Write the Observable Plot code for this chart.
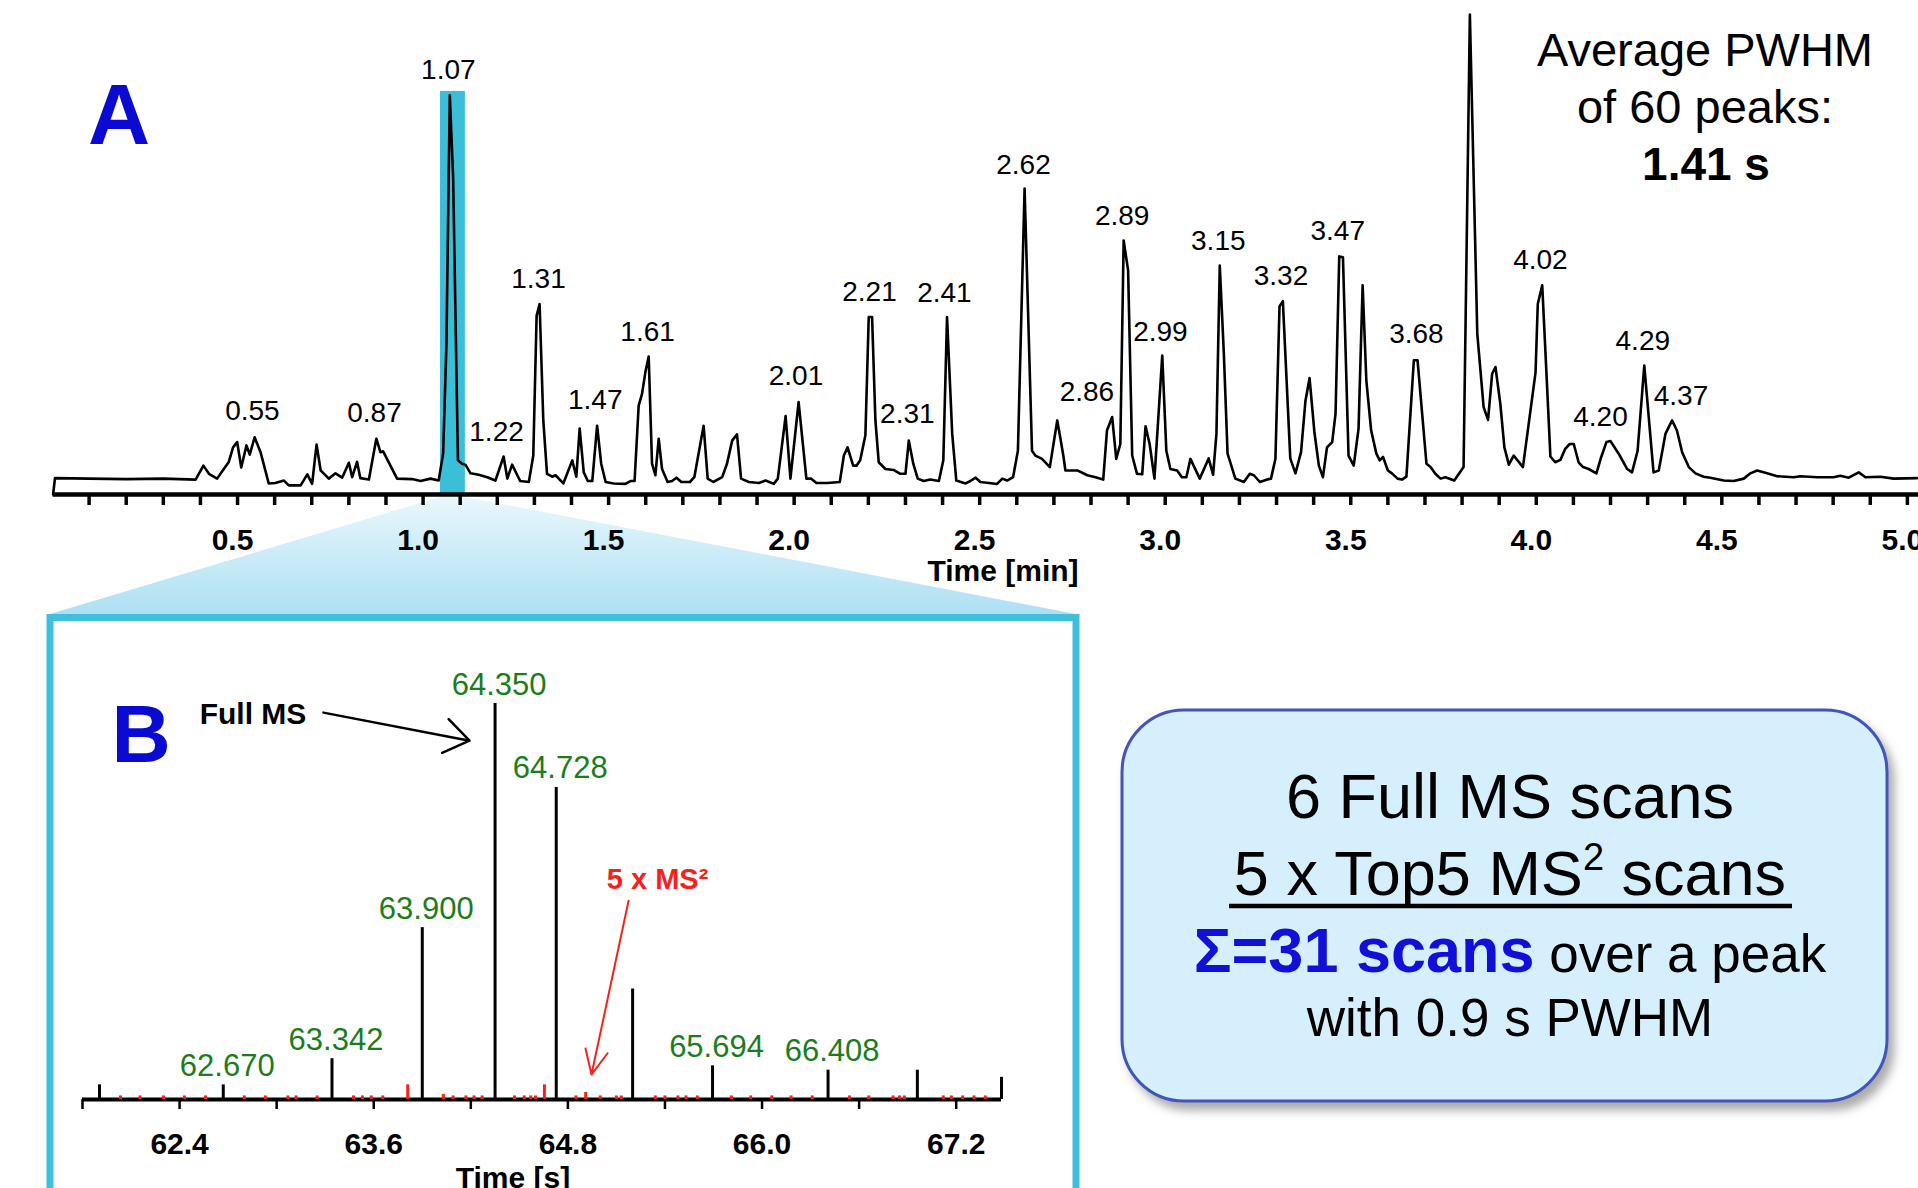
<!DOCTYPE html>
<html><head><meta charset="utf-8">
<script src="https://cdn.jsdelivr.net/npm/d3@7"></script>
<script src="https://cdn.jsdelivr.net/npm/@observablehq/plot@0.6"></script>
<style>
html,body{margin:0;padding:0;background:#fff;}
#root{position:relative;width:1918px;height:1188px;overflow:hidden;background:#fff;font-family:"Liberation Sans",Arial,sans-serif;}
#root > svg{position:absolute;left:0;top:0;}
</style></head><body><div id="root"></div>
<script>
// ---------- Panel A data (chromatogram, time in min, relative intensity) ----------
const traceTime = [0.003,0.008,0.10,0.20,0.30,0.387,0.408,0.423,0.445,0.463,0.476,0.488,0.499,0.510,0.524,0.533,0.546,0.562,0.584,0.602,0.625,0.638,0.670,0.688,0.701,0.713,0.724,0.746,0.764,0.782,0.800,0.809,0.822,0.831,0.854,0.874,0.885,0.892,0.930,0.971,0.993,1.020,1.042,1.054,1.063,1.072,1.081,1.094,1.105,1.114,1.128,1.150,1.173,1.195,1.217,1.227,1.240,1.254,1.262,1.285,1.297,1.306,1.314,1.324,1.334,1.348,1.357,1.378,1.402,1.413,1.422,1.433,1.444,1.456,1.469,1.480,1.492,1.514,1.545,1.559,1.570,1.581,1.590,1.599,1.608,1.617,1.626,1.635,1.644,1.659,1.671,1.683,1.696,1.719,1.731,1.756,1.767,1.782,1.806,1.819,1.833,1.846,1.857,1.878,1.905,1.923,1.945,1.956,1.977,1.990,2.012,2.033,2.046,2.060,2.089,2.123,2.134,2.144,2.159,2.168,2.178,2.192,2.201,2.210,2.219,2.228,2.246,2.268,2.286,2.300,2.309,2.321,2.333,2.349,2.367,2.390,2.402,2.412,2.426,2.437,2.462,2.475,2.489,2.502,2.547,2.561,2.574,2.590,2.603,2.621,2.641,2.650,2.668,2.689,2.709,2.717,2.726,2.731,2.763,2.790,2.812,2.833,2.843,2.857,2.868,2.879,2.888,2.900,2.911,2.924,2.938,2.947,2.958,2.971,2.992,3.003,3.014,3.032,3.045,3.057,3.068,3.093,3.117,3.129,3.138,3.147,3.158,3.168,3.189,3.212,3.228,3.239,3.255,3.275,3.285,3.297,3.308,3.317,3.337,3.351,3.366,3.378,3.389,3.402,3.414,3.425,3.436,3.450,3.459,3.469,3.479,3.494,3.508,3.521,3.532,3.542,3.555,3.569,3.578,3.587,3.600,3.611,3.626,3.638,3.650,3.670,3.680,3.704,3.715,3.728,3.742,3.755,3.779,3.804,3.821,3.841,3.858,3.870,3.881,3.890,3.903,3.914,3.926,3.939,3.964,3.998,4.004,4.016,4.027,4.038,4.051,4.065,4.078,4.090,4.101,4.114,4.126,4.141,4.162,4.175,4.189,4.200,4.225,4.245,4.258,4.273,4.291,4.303,4.316,4.330,4.348,4.366,4.379,4.393,4.411,4.429,4.451,4.469,4.505,4.532,4.559,4.577,4.595,4.622,4.649,4.694,4.712,4.757,4.801,4.819,4.842,4.869,4.887,4.927,4.963,5.026];
const traceIntensity = [0,3.4,3.3,3.2,3.3,3.1,6.0,4.3,3.3,5.3,6.7,9.8,10.9,5.6,10.2,8.3,11.9,8.8,2.3,2.4,2.9,1.9,1.9,4.2,2.2,10.4,5.0,3.3,4.4,3.5,6.6,3.6,6.8,3.4,3.1,11.6,8.8,9.0,3.3,3.2,2.8,3.3,2.9,8.5,31.3,83.0,66.0,7.1,6.4,6.2,4.4,4.1,3.6,2.9,7.9,3.3,6.2,4.0,2.8,2.6,8.1,37.2,39.6,15.4,4.3,3.7,4.0,2.3,7.1,3.7,13.7,4.6,2.8,2.8,14.3,6.4,2.6,2.3,2.2,2.8,2.8,18.5,20.9,25.4,28.7,6.4,4.0,11.6,5.3,2.6,2.8,3.5,2.6,2.6,3.6,14.3,3.3,2.6,3.6,6.4,11.2,12.5,3.3,2.6,2.4,2.9,2.2,3.3,16.3,3.3,19.2,3.3,3.3,2.4,2.4,2.6,8.1,9.8,6.0,6.0,7.1,12.3,36.9,36.9,15.4,6.7,5.3,5.1,4.3,4.3,11.2,6.4,3.3,2.8,3.1,2.8,7.1,36.9,12.6,2.9,2.3,2.8,3.5,2.6,2.2,3.3,2.9,3.6,9.1,63.6,9.1,8.1,7.4,5.7,15.4,11.9,7.8,5.0,5.0,4.0,3.6,3.1,13.3,16.1,7.4,10.5,52.8,46.6,8.1,4.3,4.2,14.2,10.5,3.3,28.9,9.1,5.3,5.0,3.6,3.6,7.4,3.3,7.5,4.1,12.6,47.6,29.3,8.5,3.3,2.6,4.3,4.0,2.6,3.1,3.3,7.4,39.1,40.2,7.5,4.4,8.8,19.5,24.2,13.0,6.0,3.6,9.8,10.9,16.8,49.5,49.3,8.1,6.0,13.7,43.5,23.7,13.3,8.5,7.1,7.8,5.0,4.4,3.3,3.1,3.7,27.9,27.9,6.4,5.7,4.3,3.3,3.6,2.9,5.7,99.8,33.4,18.2,15.5,25.1,26.5,18.9,9.8,6.2,8.1,5.7,25.4,39.6,43.5,25.8,7.9,6.7,7.2,9.5,10.5,10.5,6.7,5.7,5.3,4.4,7.8,10.9,11.1,8.1,5.3,4.6,9.1,26.8,16.1,4.6,5.0,12.6,15.4,13.3,8.8,5.7,4.4,3.7,3.5,2.9,2.8,3.3,4.4,5.0,4.4,3.8,3.6,3.8,3.6,3.6,3.9,3.5,4.6,3.6,3.7,3.3,3.4];

const peakLabelText = ["0.55","0.87","1.07","1.22","1.31","1.47","1.61","2.01","2.21","2.31","2.41","2.62","2.86","2.89","2.99","3.15","3.32","3.47","3.68","4.02","4.20","4.29","4.37"];
const peakLabelTime = [0.540,0.869,1.068,1.198,1.311,1.464,1.605,2.005,2.203,2.305,2.405,2.618,2.789,2.884,2.987,3.143,3.312,3.465,3.677,4.011,4.173,4.287,4.390];
const peakLabelIntensity = [15.4,15.0,86.4,11.2,43.0,17.7,32.0,22.7,40.3,14.8,40.0,66.7,19.5,56.1,32.0,50.9,43.5,53.0,31.5,46.8,14.3,30.1,18.6];

const majorTicksA = [0.5,1.0,1.5,2.0,2.5,3.0,3.5,4.0,4.5,5.0];
const majorTickLabelsA = ["0.5","1.0","1.5","2.0","2.5","3.0","3.5","4.0","4.5","5.0"];
const minorTicksA = [0.1,0.2,0.3,0.4,0.5,0.6,0.7,0.8,0.9,1.0,1.1,1.2,1.3,1.4,1.5,1.6,1.7,1.8,1.9,2.0,2.1,2.2,2.3,2.4,2.5,2.6,2.7,2.8,2.9,3.0,3.1,3.2,3.3,3.4,3.5,3.6,3.7,3.8,3.9,4.0,4.1,4.2,4.3,4.4,4.5,4.6,4.7,4.8,4.9,5.0];
const axisRangeA = [0.003, 5.03];
const highlightRange = [1.047, 1.114];
const highlightTop = 83.8;

// ---------- Panel B data (scan events, time in s) ----------
const fullMSTime = [61.905,62.670,63.342,63.900,64.350,64.728,65.200,65.694,66.408,66.960,67.480];
const fullMSIntensity = [3.7,3.7,10.3,43.4,100,78.8,27.9,8.5,7.4,7.4,5.6];
const fullMSLabel = ["","62.670","63.342","63.900","64.350","64.728","","65.694","66.408","",""];
const ms2Time = [62.035,62.155,62.30,62.43,62.56, 62.80,62.93,63.07,63.12,63.25, 63.475,63.53,63.585,63.656,63.81, 64.03,64.09,64.17,64.22,64.27, 64.47,64.53,64.57,64.60,64.655, 64.85,64.91,65.00,65.10,65.13, 65.34,65.40,65.48,65.53,65.60, 65.81,65.93,66.06,66.18,66.31, 66.54,66.66,66.81,66.85,66.88, 67.12,67.17,67.24,67.31,67.38];
const ms2Intensity = [0.9,0.9,0.9,0.9,0.9, 0.9,0.9,0.9,0.9,0.9, 0.9,0.9,0.9,0.9,3.7, 1.3,0.9,0.9,0.9,0.9, 0.9,0.9,0.9,0.9,3.7, 0.9,1.8,0.9,0.9,0.9, 0.9,0.9,0.9,0.9,0.9, 0.9,0.9,0.9,0.9,0.9, 0.9,0.9,0.9,0.9,0.9, 0.9,0.9,0.9,0.9,0.9];
const ticksB = [61.8,62.4,63.0,63.6,64.2,64.8,65.4,66.0,66.6,67.2];
const tickLabelValuesB = [62.4,63.6,64.8,66.0,67.2];
const tickLabelsB = ["62.4","63.6","64.8","66.0","67.2"];
const axisRangeB = [61.8, 67.48];
const fullMSArrow = {t1: 63.289, i1: 97.7, t2: 64.192, i2: 90.6};
const fullMSNote = {t: 62.854, i: 94.9, text: "Full MS"};
const ms2Arrow = {t1: 65.175, i1: 50.2, t2: 64.946, i2: 6.3};
const ms2Note = {t: 65.354, i: 53.2, text: "5 x MS²"};

const FONT = '"Liberation Sans", Arial, Helvetica, sans-serif';
const root = document.getElementById("root");

// ---------- background decoration (zoom trapezoid, panel B frame) ----------
const deco = d3.create("svg").attr("width",1918).attr("height",1188);
const defs = deco.append("defs");
const grad = defs.append("linearGradient").attr("id","trap").attr("x1",0).attr("y1",0).attr("x2",0).attr("y2",1);
grad.append("stop").attr("offset","0%").attr("stop-color","#e9f7fc");
grad.append("stop").attr("offset","100%").attr("stop-color","#ade0f3");
deco.append("polygon").attr("points","440,497 465,497 1076,614 50,614").attr("fill","url(#trap)");
deco.append("rect").attr("x",50).attr("y",617.5).attr("width",1026).attr("height",620)
  .attr("fill","none").attr("stroke","#3fbfdb").attr("stroke-width",7);
root.appendChild(deco.node());

// ---------- Panel A ----------
const trace = traceTime.map((t,i)=>({t, i: traceIntensity[i]}));
const peakLabels = peakLabelText.map((s,k)=>({s, t: peakLabelTime[k], i: peakLabelIntensity[k]}));
const majorA = majorTicksA.map((v,k)=>({v, label: majorTickLabelsA[k], z: 0}));
const minorA = minorTicksA.map(v=>({v, z: 0}));

const plotA = Plot.plot({
  width: 1918, height: 600,
  marginLeft: 51.5, marginRight: 0, marginTop: 13, marginBottom: 106,
  x: {domain: [0, 5.03], axis: null},
  y: {domain: [0, 100], axis: null},
  style: {background: "transparent", overflow: "visible", fontFamily: FONT},
  marks: [
    Plot.rect([{x1: highlightRange[0], x2: highlightRange[1], y1: 0, y2: highlightTop}], {x1:"x1", x2:"x2", y1:"y1", y2:"y2", fill:"#3bbfd9"}),
    Plot.line(trace, {x:"t", y:"i", stroke:"#000", strokeWidth: 2.6}),
    Plot.ruleX(minorA, {x:"v", y1:"z", y2:"z", insetTop: 11, stroke:"#000", strokeWidth: 3.5}),
    Plot.ruleY([{y: 0, x1: axisRangeA[0], x2: axisRangeA[1]}], {y:"y", x1:"x1", x2:"x2", stroke:"#000", strokeWidth: 4.5}),
    Plot.text(majorA, {x:"v", text:"label", frameAnchor:"bottom", dx: -5, dy: 55, lineAnchor:"bottom", fontSize: 30, fontWeight:"bold", fill:"#000"}),
    Plot.text(peakLabels, {x:"t", y:"i", text:"s", lineAnchor:"bottom", fontSize: 28, fill:"#000"})
  ]
});
root.appendChild(plotA);

// ---------- Panel B ----------
const scans = fullMSTime.map((t,k)=>({t, h: fullMSIntensity[k], label: fullMSLabel[k], z: 0}));
const ms2 = ms2Time.map((t,k)=>({t, h: ms2Intensity[k], z: 0}));
const ticksBTbl = ticksB.map(v=>({v, z: 0}));
const labelsBTbl = tickLabelValuesB.map((v,k)=>({v, label: tickLabelsB[k]}));

const plotB = Plot.plot({
  width: 1080, height: 568,
  marginLeft: 82, marginRight: 79, marginTop: 83, marginBottom: 89,
  x: {domain: axisRangeB, axis: null},
  y: {domain: [0, 100], axis: null},
  style: {background: "transparent", overflow: "visible", fontFamily: FONT},
  marks: [
    Plot.ruleX(ticksBTbl, {x:"v", y1:"z", y2:"z", insetTop: 10, stroke:"#000", strokeWidth: 2.5}),
    Plot.ruleY([{y: 0, x1: axisRangeB[0], x2: axisRangeB[1]}], {y:"y", x1:"x1", x2:"x2", stroke:"#000", strokeWidth: 4}),
    Plot.ruleX(scans, {x:"t", y1:"z", y2:"h", stroke:"#000", strokeWidth: 3}),
    Plot.ruleX(ms2, {x:"t", y1:"z", y2:"h", stroke:"#f5221b", strokeWidth: 3}),
    Plot.text(labelsBTbl, {x:"v", text:"label", frameAnchor:"bottom", dy: 54, lineAnchor:"bottom", fontSize: 30, fontWeight:"bold", fill:"#000"}),
    Plot.text(scans.filter(d=>d.label), {x:"t", y:"h", text:"label", dx: 4, dy: -9, lineAnchor:"bottom", fontSize: 31, fill:"#1c7c1c"}),
    Plot.arrow([fullMSArrow], {x1:"t1", y1:"i1", x2:"t2", y2:"i2", stroke:"#000", strokeWidth: 2.5, headLength: 18, headAngle: 70}),
    Plot.text([fullMSNote], {x:"t", y:"i", text:"text", lineAnchor:"bottom", fontSize: 30, fontWeight:"bold", fill:"#000"}),
    Plot.arrow([ms2Arrow], {x1:"t1", y1:"i1", x2:"t2", y2:"i2", stroke:"#f5221b", strokeWidth: 2, headLength: 20, headAngle: 50}),
    Plot.text([ms2Note], {x:"t", y:"i", text:"text", lineAnchor:"bottom", fontSize: 29, fontWeight:"bold", fill:"#f5221b"})
  ]
});
plotB.style.position = "absolute";
plotB.style.left = "0px";
plotB.style.top = "620px";
root.appendChild(plotB);

// ---------- annotation layer (panel letters, axis titles, note, info box) ----------
const ann = d3.create("svg").attr("width",1918).attr("height",1188).style("font-family", FONT);
const adefs = ann.append("defs");
const f = adefs.append("filter").attr("id","shadow").attr("x","-10%").attr("y","-10%").attr("width","130%").attr("height","130%");
f.append("feDropShadow").attr("dx",6).attr("dy",8).attr("stdDeviation",5).attr("flood-color","#666").attr("flood-opacity",0.55);

function txt(x, y, s, size, opts = {}) {
  return ann.append("text").attr("x", x).attr("y", y).attr("text-anchor", opts.anchor || "middle")
    .attr("font-size", size).attr("font-weight", opts.weight || "normal").attr("fill", opts.fill || "#000").text(s);
}
txt(119, 143.5, "A", 86, {weight:"bold", fill:"#0a0ad2"});
txt(141, 762, "B", 82, {weight:"bold", fill:"#0a0ad2"});
txt(1705, 66, "Average PWHM", 47);
txt(1705, 123, "of 60 peaks:", 47);
txt(1706, 180, "1.41 s", 46, {weight:"bold"});
txt(1003, 581, "Time [min]", 30, {weight:"bold"});
txt(513, 1188, "Time [s]", 30, {weight:"bold"});

ann.append("rect").attr("x",1122).attr("y",710).attr("width",765).attr("height",391).attr("rx",62)
  .attr("fill","#d5effc").attr("stroke","#4254b8").attr("stroke-width",3).attr("filter","url(#shadow)");
txt(1510, 818, "6 Full MS scans", 63);
const l2 = ann.append("text").attr("x",1510).attr("y",895).attr("text-anchor","middle").attr("font-size",63).attr("fill","#000");
l2.append("tspan").text("5 x Top5 MS");
l2.append("tspan").attr("font-size",38).attr("dy",-25).text("2");
l2.append("tspan").attr("dy",25).text(" scans");
ann.append("line").attr("x1",1229).attr("x2",1792).attr("y1",906).attr("y2",906).attr("stroke","#000").attr("stroke-width",4.5);
const l3 = ann.append("text").attr("x",1510).attr("y",972).attr("text-anchor","middle").attr("fill","#000");
l3.append("tspan").attr("font-size",63).attr("font-weight","bold").attr("fill","#1010d8").text("Σ=31 scans");
l3.append("tspan").attr("font-size",53).text(" over a peak");
txt(1510, 1036, "with 0.9 s PWHM", 53);
root.appendChild(ann.node());
</script></body></html>
